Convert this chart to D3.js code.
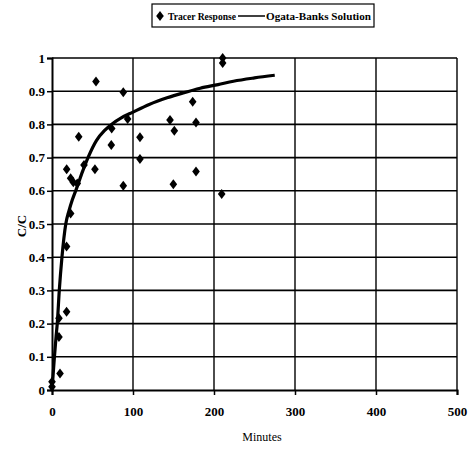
<!DOCTYPE html>
<html><head><meta charset="utf-8">
<script src="https://cdn.jsdelivr.net/npm/d3@7"></script>
<style>body{margin:0;background:#fff}svg{display:block}text{font-family:"Liberation Serif","DejaVu Serif",serif;fill:#000}</style>
</head><body><svg id="c" width="469" height="455"></svg>
<script>
const xTicks = [0,100,200,300,400,500];
const yTicks = [0,0.1,0.2,0.3,0.4,0.5,0.6,0.7,0.8,0.9,1];
const yTickLabels = ["0","0.1","0.2","0.3","0.4","0.5","0.6","0.7","0.8","0.9","1"];
const tracerMinutes = [0,0,8.6,8.6,9.9,18,18,23,23,26.3,31.2,18.1,39.5,53,33,54.3,73.7,73.2,88,88,93.4,108.6,108.6,145.7,151,149.8,173.7,177.8,177.8,210.7,210.7,209.5];
const tracerCC = [0.01,0.025,0.16,0.216,0.05,0.236,0.432,0.532,0.638,0.626,0.622,0.665,0.678,0.665,0.763,0.929,0.788,0.738,0.897,0.615,0.816,0.761,0.696,0.813,0.781,0.62,0.868,0.806,0.658,1.0,0.985,0.59];
const ogataMinutes = [0,1.5,3,5,6.5,9,12.3,17,21,25,30,38,45,55,65,75,85,100,120,142,162,183,205,224,250,275];
const ogataCC = [0,0.05,0.1,0.16,0.2,0.3,0.4,0.5,0.54,0.572,0.605,0.66,0.703,0.752,0.782,0.803,0.819,0.837,0.86,0.88,0.895,0.909,0.92,0.93,0.94,0.948];

const svg = d3.select("#c");
const x = d3.scaleLinear().domain([0,500]).range([52,457]);
const y = d3.scaleLinear().domain([0,1]).range([390,58]);

// grid
svg.append("g").selectAll("line").data(yTicks.slice(1)).join("line")
  .attr("x1",x(0)).attr("x2",x(500)).attr("y1",d=>y(d)).attr("y2",d=>y(d))
  .attr("stroke","#000").attr("stroke-width",1.6);
svg.append("g").selectAll("line").data(xTicks.slice(1)).join("line")
  .attr("y1",y(0)).attr("y2",y(1)).attr("x1",d=>x(d)).attr("x2",d=>x(d))
  .attr("stroke","#000").attr("stroke-width",1.4);

// axes
const yAxis = d3.axisLeft(y).tickValues(yTicks).tickFormat((d,i)=>yTickLabels[i]).tickSize(5).tickPadding(2);
const gy = svg.append("g").attr("transform",`translate(${x(0)},0)`).call(yAxis);
gy.select(".domain").attr("stroke-width",2);
gy.selectAll(".tick line").attr("stroke-width",1.5);
gy.selectAll("text").style("font-size","13px").style("font-weight","bold").attr("font-family",null);

const xAxis = d3.axisBottom(x).tickValues(xTicks).tickSize(5).tickPadding(12);
const gx = svg.append("g").attr("transform",`translate(0,${y(0)})`).call(xAxis);
gx.select(".domain").attr("stroke-width",2);
gx.selectAll(".tick line").attr("stroke-width",1.5);
gx.selectAll("text").style("font-size","13px").style("font-weight","bold").attr("font-family",null);

// titles
svg.append("text").attr("x",262).attr("y",441).attr("text-anchor","middle").style("font-size","12px").text("Minutes");
svg.append("text").attr("transform","translate(26,226) rotate(-90)").attr("text-anchor","middle").style("font-size","13px").style("font-weight","bold").text("C/C");

// curve
const line = d3.line().x((d,i)=>x(ogataMinutes[i])).y((d,i)=>y(ogataCC[i])).curve(d3.curveMonotoneX);
svg.append("path").datum(ogataCC).attr("d",line).attr("fill","none").attr("stroke","#000").attr("stroke-width",3.2);

// points
const diamond = "M0,-5L3.8,0L0,5L-3.8,0Z";
svg.append("g").selectAll("path").data(tracerCC).join("path")
  .attr("d",diamond).attr("transform",(d,i)=>`translate(${x(tracerMinutes[i])},${y(d)})`).attr("fill","#000");

// legend
const lg = svg.append("g");
lg.append("rect").attr("x",152).attr("y",4).attr("width",222).attr("height",23).attr("fill","#fff").attr("stroke","#000").attr("stroke-width",1.2);
lg.append("path").attr("d",diamond).attr("transform","translate(160,16)").attr("fill","#000");
lg.append("text").attr("x",168).attr("y",20).style("font-size","11px").style("font-weight","bold").attr("textLength",68).attr("lengthAdjust","spacingAndGlyphs").text("Tracer Response");
lg.append("line").attr("x1",238).attr("x2",265).attr("y1",16).attr("y2",16).attr("stroke","#000").attr("stroke-width",1.5);
lg.append("text").attr("x",266).attr("y",20).style("font-size","11px").style("font-weight","bold").attr("textLength",105).attr("lengthAdjust","spacingAndGlyphs").text("Ogata-Banks Solution");
</script></body></html>
